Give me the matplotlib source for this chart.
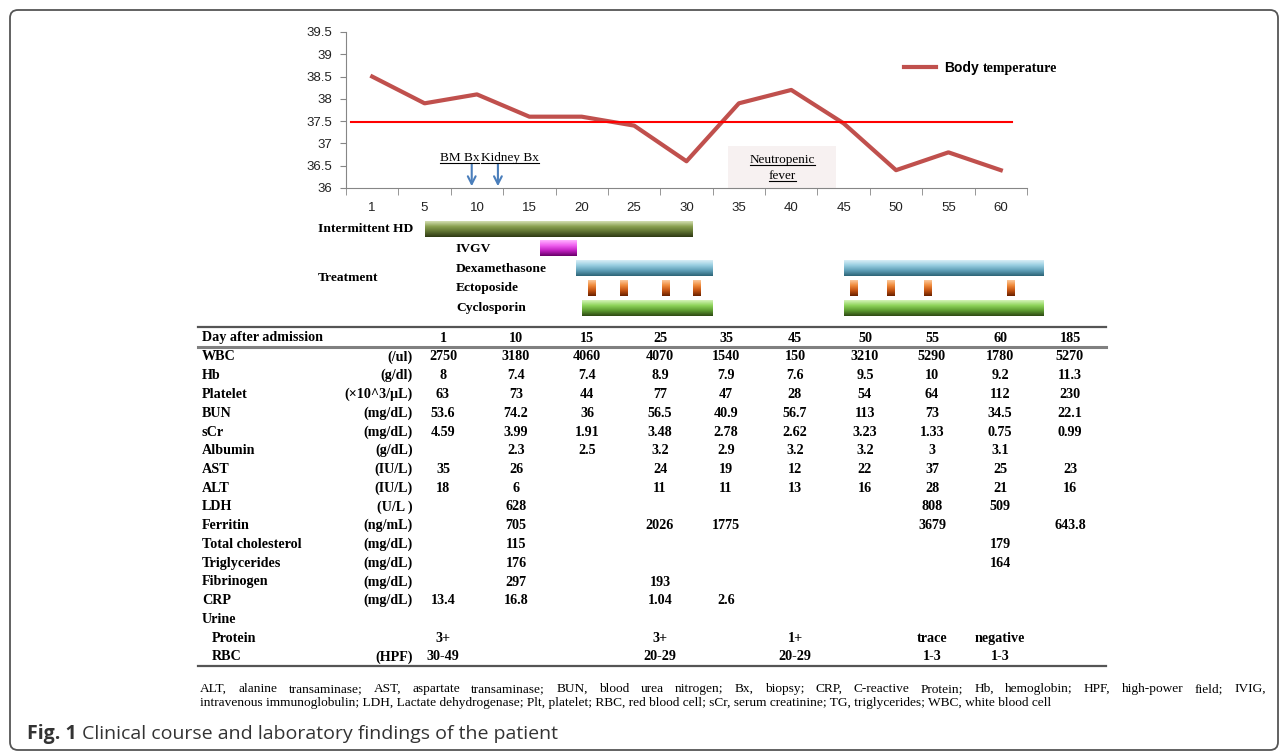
import numpy as np
import matplotlib
matplotlib.use('Agg')
import matplotlib.pyplot as plt
from matplotlib.patches import Rectangle, FancyBboxPatch
from matplotlib.colors import LinearSegmentedColormap

# body temperature course
temp_days = [1, 5, 10, 15, 20, 25, 30, 35, 40, 45, 50, 55, 60]
temp_vals = [38.5, 37.9, 38.1, 37.6, 37.6, 37.4, 36.6, 37.9, 38.2, 37.45, 36.4, 36.8, 36.4]
fever_cut = 37.47
biopsy_days = [9.5, 12]
neutro_days = [34, 44.3]

# treatments, (start day, end day)
hd_spans = [(5, 30.5)]
ivgv_spans = [(16, 19.5)]
dexa_spans = [(19.5, 32.5), (45, 64)]
ecto_days = [21, 24, 28, 31, 46, 49.5, 53, 61]
cyclo_spans = [(20, 32.5), (45, 64)]

# laboratory table
lab_days = ['1', '10', '15', '25', '35', '45', '50', '55', '60', '185']
lab_names = ['WBC', 'Hb', 'Platelet', 'BUN', 'sCr', 'Albumin', 'AST', 'ALT', 'LDH',
             'Ferritin', 'Total cholesterol', 'Triglycerides', 'Fibrinogen', 'CRP',
             'Urine', 'Protein', 'RBC']
lab_units = ['(/ul)', '(g/dl)', '(\u00d710^3/\u03bcL)', '(mg/dL)', '(mg/dL)', '(g/dL)',
             '(IU/L)', '(IU/L)', '(U/L )', '(ng/mL)', '(mg/dL)', '(mg/dL)', '(mg/dL)',
             '(mg/dL)', '', '', '(HPF)']
wbc = ['2750', '3180', '4060', '4070', '1540', '150', '3210', '5290', '1780', '5270']
hb = ['8', '7.4', '7.4', '8.9', '7.9', '7.6', '9.5', '10', '9.2', '11.3']
plt_ = ['63', '73', '44', '77', '47', '28', '54', '64', '112', '230']
bun = ['53.6', '74.2', '36', '56.5', '40.9', '56.7', '113', '73', '34.5', '22.1']
scr = ['4.59', '3.99', '1.91', '3.48', '2.78', '2.62', '3.23', '1.33', '0.75', '0.99']
alb = ['', '2.3', '2.5', '3.2', '2.9', '3.2', '3.2', '3', '3.1', '']
ast = ['35', '26', '', '24', '19', '12', '22', '37', '25', '23']
alt = ['18', '6', '', '11', '11', '13', '16', '28', '21', '16']
ldh = ['', '628', '', '', '', '', '', '808', '509', '']
ferritin = ['', '705', '', '2026', '1775', '', '', '3679', '', '643.8']
tchol = ['', '115', '', '', '', '', '', '', '179', '']
tg = ['', '176', '', '', '', '', '', '', '164', '']
fib = ['', '297', '', '193', '', '', '', '', '', '']
crp = ['13.4', '16.8', '', '1.04', '2.6', '', '', '', '', '']
urine = [''] * 10
u_prot = ['3+', '', '', '3+', '', '1+', '', 'trace', 'negative', '']
u_rbc = ['30-49', '', '', '20-29', '', '20-29', '', '1-3', '1-3', '']
lab_vals = [wbc, hb, plt_, bun, scr, alb, ast, alt, ldh, ferritin, tchol, tg, fib,
            crp, urine, u_prot, u_rbc]

footnote = ['ALT, alanine transaminase; AST, aspartate transaminase; BUN, blood urea nitrogen; '
            'Bx, biopsy; CRP, C-reactive Protein; Hb, hemoglobin; HPF, high-power field; IVIG,',
            'intravenous immunoglobulin; LDH, Lactate dehydrogenase; Plt, platelet; RBC, red blood '
            'cell; sCr, serum creatinine; TG, triglycerides; WBC, white blood cell']

SERIF = 'Liberation Serif'
SANS = 'Liberation Sans'

W, H = 1287, 752
fig = plt.figure(figsize=(W / 100.0, H / 100.0), dpi=100)

def box(x0, y0, x1, y1):
    return [x0 / W, 1 - y1 / H, (x1 - x0) / W, (y1 - y0) / H]

def day_pos(d):
    d = np.asarray(d, dtype=float)
    return np.where(d <= 5, (d - 1) / 4.0, d / 5.0)

# pixel canvas for layout text
bg = fig.add_axes([0, 0, 1, 1])
bg.set_xlim(0, W)
bg.set_ylim(H, 0)
bg.axis('off')
bg.add_patch(FancyBboxPatch((10, 10), 1268, 740, boxstyle='round,pad=0,rounding_size=8',
                            fc='none', ec='#555555', lw=1.3))

# ---- temperature chart
ax = fig.add_axes(box(346, 32, 1027, 188))
ax.patch.set_alpha(0)
pos = np.arange(len(temp_days))
ax.add_patch(Rectangle((day_pos(neutro_days[0]), 36), day_pos(neutro_days[1]) - day_pos(neutro_days[0]),
                       0.95, fc='#f7f1f1', ec='none', zorder=0))
line, = ax.plot(pos, temp_vals, color='#c0504d', lw=3, label='Body', zorder=3)
ax.axhline(fever_cut, xmin=0.007, xmax=0.978, color='#ff0000', lw=1.5, zorder=4)
for d in biopsy_days:
    ax.annotate('', xy=(day_pos(d), 36.04), xytext=(day_pos(d), 36.54),
                arrowprops=dict(arrowstyle='->,head_length=0.55,head_width=0.28', color='#4a7ebb',
                                lw=1.5, shrinkA=0, shrinkB=0))
ax.set_xlim(-0.5, 12.5)
ax.set_ylim(36, 39.5)
ax.set_yticks(np.arange(36, 39.51, 0.5))
ax.set_yticklabels(['%g' % v for v in np.arange(36, 39.51, 0.5)])
ax.set_xticks(pos)
ax.set_xticklabels([str(d) for d in temp_days])
ax.set_xticks(np.arange(-0.5, 12.6, 1), minor=True)
ax.tick_params(axis='x', which='major', length=0, pad=10)
ax.tick_params(axis='x', which='minor', length=5, color='#868686')
ax.tick_params(axis='y', length=4, color='#868686', pad=6)
for lab in ax.get_xticklabels() + ax.get_yticklabels():
    lab.set_fontfamily(SANS)
    lab.set_fontsize(9.5)
    lab.set_color('#222222')
for s in ['top', 'right']:
    ax.spines[s].set_visible(False)
for s in ['left', 'bottom']:
    ax.spines[s].set_color('#868686')
leg = ax.legend(handles=[line], loc='center left', bbox_to_anchor=(0.82, 0.769), frameon=False,
                borderpad=0, borderaxespad=0, handlelength=2.3, handletextpad=0.55,
                prop={'family': SANS, 'weight': 'bold', 'size': 10})

# annotations in the chart
ann = []
ann.append(ax.text(2.04, 36.61, 'BM Bx', ha='right', va='baseline', family=SERIF, fontsize=9.5))
ann.append(ax.text(2.07, 36.61, 'Kidney Bx', ha='left', va='baseline', family=SERIF, fontsize=9.5))
xc = (day_pos(neutro_days[0]) + day_pos(neutro_days[1])) / 2
ann.append(ax.text(xc, 36.56, 'Neutropenic', ha='center', va='baseline', family=SERIF, fontsize=9.5))
ann.append(ax.text(xc, 36.20, 'fever', ha='center', va='baseline', family=SERIF, fontsize=9.5))

# ---- treatment bars
axr = fig.add_axes(box(346, 219.1, 1027, 318.1))
axr.axis('off')
bh = 0.76
def grad_bar(x0, x1, row, colors):
    cm = LinearSegmentedColormap.from_list('g', colors)
    g = cm(np.linspace(0, 1, 40))[:, None, :3]
    im = axr.imshow(g, extent=(x0, x1, row + bh / 2, row - bh / 2), aspect='auto',
                    origin='upper', interpolation='bilinear')
    im.set_clip_on(False)

hd_c = ['#d2ddb0', '#8aa050', '#5d7030', '#2f3a14']
ivgv_c = ['#ffb0ff', '#f060f0', '#c020c0', '#6a006a']
dexa_c = ['#d8eef6', '#96cde0', '#5e9db5', '#2d6578']
ecto_c = ['#fbc89a', '#f08a3a', '#c05010', '#6a2200']
cyclo_c = ['#d4f4b8', '#8ed45a', '#5c9a30', '#2e4a14']

for a, b in hd_spans:
    grad_bar(day_pos(a), day_pos(b), 0, hd_c)
for a, b in ivgv_spans:
    grad_bar(day_pos(a), day_pos(b), 1, ivgv_c)
for a, b in dexa_spans:
    grad_bar(day_pos(a), day_pos(b), 2, dexa_c)
for d in ecto_days:
    grad_bar(day_pos(d) - 0.075, day_pos(d) + 0.075, 3, ecto_c)
for a, b in cyclo_spans:
    grad_bar(day_pos(a), day_pos(b), 4, cyclo_c)
axr.set_xlim(-0.5, 12.5)
axr.set_ylim(4.5, -0.5)

row_y = [229, 248.8, 268.6, 288.4, 308.2]
tfont = dict(family=SERIF, weight='bold', fontsize=9.7, va='center')
bg.text(318, row_y[0], 'Intermittent HD', **tfont)
bg.text(318, 278, 'Treatment', **tfont)
for name, y in zip(['IVGV', 'Dexamethasone', 'Ectoposide', 'Cyclosporin'], row_y[1:]):
    bg.text(456, y, name, **tfont)

# ---- lab table
col_x = [443, 516, 587, 660, 726, 795, 865, 932, 1000, 1070]
fnt = dict(family=SERIF, weight='bold', fontsize=10.2, va='center')
bg.plot([198, 1106], [327, 327], color='#555555', lw=1.6)
bg.plot([198, 1106], [347, 347], color='#808080', lw=2.2)
bg.plot([198, 1106], [666, 666], color='#555555', lw=1.6)
bg.text(202, 338, 'Day after admission', **fnt)
for x, d in zip(col_x, lab_days):
    bg.text(x, 338, d, ha='center', **fnt)
for i, (name, unit, vals) in enumerate(zip(lab_names, lab_units, lab_vals)):
    y = 357 + 18.75 * i
    bg.text(212 if name in ('Protein', 'RBC') else 202, y, name, **fnt)
    bg.text(413, y, unit, ha='right', **fnt)
    for x, v in zip(col_x, vals):
        bg.text(x, y, v, ha='center', **fnt)

fig.canvas.draw()
r = fig.canvas.get_renderer()

# footnote, first line justified to the full width
ffont = dict(family=SERIF, fontsize=9.6, va='baseline')
words = footnote[0].split(' ')
wt = [bg.text(0, 692, w, **ffont) for w in words]
widths = [t.get_window_extent(renderer=r).width for t in wt]
gap = (1266 - 200 - sum(widths)) / (len(words) - 1)
x = 200
for t, w in zip(wt, widths):
    t.set_x(x)
    x += w + gap
bg.text(200, 706, footnote[1], **ffont)

t1 = bg.text(27, 734, 'Fig. 1', family='Open Sans', weight='bold', fontsize=14, va='center',
             color='#333333')
bb = t1.get_window_extent(renderer=r)
bg.text(bb.x1 + 5, 734, 'Clinical course and laboratory findings of the patient',
        family='Open Sans', fontsize=14, va='center', color='#333333')

# second half of the legend label is set in serif
lt = leg.get_texts()[0]
lb = lt.get_window_extent(renderer=r)
top = fig.add_axes([0, 0, 1, 1], label='top')
top.set_xlim(0, W)
top.set_ylim(H, 0)
top.axis('off')
top.text(lb.x1 + 4, H - (lb.y0 + lb.y1) / 2, 'temperature', family=SERIF, weight='bold',
         fontsize=10, va='center')

# underlines
for t in ann:
    tb = t.get_window_extent(renderer=r)
    xd, yd = t.get_transform().transform(t.get_position())
    top.plot([tb.x0, tb.x1], [H - yd + 2] * 2, color='black', lw=0.8)

fig.savefig('out.png', dpi=100)
